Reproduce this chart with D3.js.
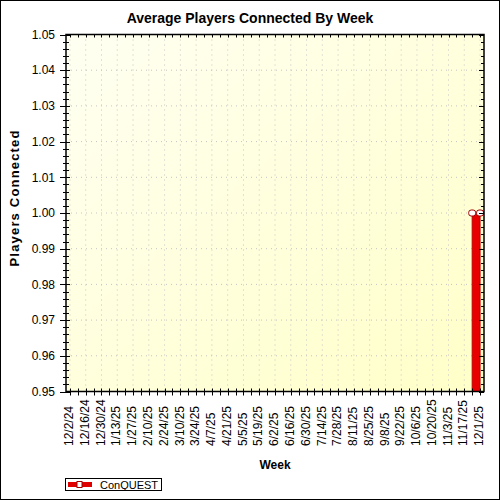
<!DOCTYPE html>
<html lang="en">

<head>
    <meta charset="utf-8" />
    <title>Average Players Connected By Week</title>
    <script src="https://cdn.jsdelivr.net/npm/d3@7"></script>

    <style>
        body {
            margin: 0;
            background: #fff;
        }

        svg text {
            font-family: "Liberation Sans", Arial, sans-serif;
            fill: #000;
        }

        .grid line {
            stroke: #c4c4c4;
            stroke-dasharray: 1, 4;
        }
    </style>
</head>

<body>

</body>

<script>

    // one entry per week
    let weeks = [
        '12/2/24', '12/9/24', '12/16/24', '12/23/24', '12/30/24', '1/6/25', '1/13/25', '1/20/25',
        '1/27/25', '2/3/25', '2/10/25', '2/17/25', '2/24/25', '3/3/25', '3/10/25', '3/17/25',
        '3/24/25', '3/31/25', '4/7/25', '4/14/25', '4/21/25', '4/28/25', '5/5/25', '5/12/25',
        '5/19/25', '5/26/25', '6/2/25', '6/9/25', '6/16/25', '6/23/25', '6/30/25', '7/7/25',
        '7/14/25', '7/21/25', '7/28/25', '8/4/25', '8/11/25', '8/18/25', '8/25/25', '9/1/25',
        '9/8/25', '9/15/25', '9/22/25', '9/29/25', '10/6/25', '10/13/25', '10/20/25', '10/27/25',
        '11/3/25', '11/10/25', '11/17/25', '11/24/25', '12/1/25'
    ];

    // average players per week (null = no data)
    let conquest = [
        null, null, null, null, null, null, null, null,
        null, null, null, null, null, null, null, null,
        null, null, null, null, null, null, null, null,
        null, null, null, null, null, null, null, null,
        null, null, null, null, null, null, null, null,
        null, null, null, null, null, null, null, null,
        null, null, null, 1.00, 1.00
    ];

    let seriesName = 'ConQUEST';
    let yTicks = [0.95, 0.96, 0.97, 0.98, 0.99, 1.00, 1.01, 1.02, 1.03, 1.04, 1.05];

    let width = 500, height = 500;
    let plot = { left: 66, right: 484, top: 34.5, bottom: 391.5 };

    let data = weeks.map((w, i) => ({ week: w, value: conquest[i] }));

    let svg = d3.select('body')
        .append('svg')
        .attr('width', width)
        .attr('height', height);

    // plot background gradient
    let grad = svg.append('defs').append('linearGradient')
        .attr('id', 'bg')
        .attr('x1', 0).attr('y1', 0)
        .attr('x2', 1).attr('y2', 1);
    grad.append('stop').attr('offset', '0%').attr('stop-color', '#fffff2');
    grad.append('stop').attr('offset', '100%').attr('stop-color', '#ffffc8');

    svg.append('defs').append('clipPath')
        .attr('id', 'clip')
        .append('rect')
        .attr('x', plot.left)
        .attr('y', plot.top)
        .attr('width', plot.right - plot.left)
        .attr('height', plot.bottom - plot.top);

    let x = d3.scalePoint()
        .domain(weeks)
        .range([plot.left, plot.right])
        .padding(0.5);

    let y = d3.scaleLinear()
        .domain([0.95, 1.05])
        .range([plot.bottom, plot.top]);

    let minorY = d3.range(0, 51).map(i => 0.95 + i * 0.002);
    let labelWeeks = weeks.filter((d, i) => i % 2 == 0);

    svg.append('rect')
        .attr('x', plot.left)
        .attr('y', plot.top)
        .attr('width', plot.right - plot.left)
        .attr('height', plot.bottom - plot.top)
        .style('fill', 'url(#bg)');

    // dotted grid
    let grid = svg.append('g').attr('class', 'grid');
    grid.selectAll('.gy')
        .data(yTicks.slice(1, -1))
        .enter().append('line')
        .attr('x1', plot.left)
        .attr('x2', plot.right)
        .attr('y1', d => y(d))
        .attr('y2', d => y(d));
    grid.selectAll('.gx')
        .data(labelWeeks)
        .enter().append('line')
        .attr('x1', d => x(d))
        .attr('x2', d => x(d))
        .attr('y1', plot.top)
        .attr('y2', plot.bottom);

    // area + line
    let area = d3.area()
        .defined(d => d.value != null)
        .x(d => x(d.week))
        .y0(plot.bottom)
        .y1(d => y(d.value));

    let line = d3.line()
        .defined(d => d.value != null)
        .x(d => x(d.week))
        .y(d => y(d.value));

    let g = svg.append('g').attr('clip-path', 'url(#clip)');

    g.append('path')
        .datum(data)
        .attr('d', area)
        .style('fill', '#e80000')
        .style('stroke', '#c00000')
        .style('stroke-width', 1);

    g.append('path')
        .datum(data)
        .attr('d', line)
        .style('fill', 'none')
        .style('stroke', '#a00000')
        .style('stroke-width', 1.5);

    svg.selectAll('.marker')
        .data(data.filter(d => d.value != null))
        .enter().append('rect')
        .attr('class', 'marker')
        .attr('x', d => x(d.week) - 3.5)
        .attr('y', d => y(d.value) - 3)
        .attr('width', 7)
        .attr('height', 6)
        .attr('rx', 2.5)
        .attr('ry', 2.5)
        .style('fill', '#fff')
        .style('stroke', '#a00000')
        .style('stroke-width', 1);

    // axes
    let axisColor = '#000';

    // left axis ticks crossing the line
    svg.append('g')
        .selectAll('line')
        .data(minorY)
        .enter().append('line')
        .attr('x1', (d, i) => i % 5 == 0 ? plot.left - 6 : plot.left - 3)
        .attr('x2', (d, i) => i % 5 == 0 ? plot.left + 4 : plot.left + 3)
        .attr('y1', d => Math.round(y(d)) + 0.5)
        .attr('y2', d => Math.round(y(d)) + 0.5)
        .style('stroke', axisColor);

    // right axis ticks inward
    svg.append('g')
        .selectAll('line')
        .data(minorY)
        .enter().append('line')
        .attr('x1', (d, i) => i % 5 == 0 ? plot.right - 5 : plot.right - 3)
        .attr('x2', plot.right)
        .attr('y1', d => Math.round(y(d)) + 0.5)
        .attr('y2', d => Math.round(y(d)) + 0.5)
        .style('stroke', axisColor);

    // bottom ticks crossing
    svg.append('g')
        .selectAll('line')
        .data(weeks)
        .enter().append('line')
        .attr('x1', d => Math.round(x(d)) + 0.5)
        .attr('x2', d => Math.round(x(d)) + 0.5)
        .attr('y1', plot.bottom - 3)
        .attr('y2', plot.bottom + 4)
        .style('stroke', axisColor);

    // top ticks inward
    svg.append('g')
        .selectAll('line')
        .data(weeks)
        .enter().append('line')
        .attr('x1', d => Math.round(x(d)) + 0.5)
        .attr('x2', d => Math.round(x(d)) + 0.5)
        .attr('y1', plot.top)
        .attr('y2', plot.top + 3)
        .style('stroke', axisColor);

    svg.append('rect')
        .attr('x', plot.left)
        .attr('y', plot.top)
        .attr('width', plot.right - plot.left)
        .attr('height', plot.bottom - plot.top)
        .style('fill', 'none')
        .style('stroke', axisColor)
        .style('stroke-width', 1.5);

    // y tick labels
    svg.append('g')
        .selectAll('text')
        .data(yTicks)
        .enter().append('text')
        .attr('x', 55)
        .attr('y', d => y(d))
        .attr('dy', '0.35em')
        .attr('text-anchor', 'end')
        .style('font-size', '12px')
        .text(d => d3.format('.2f')(d));

    // x tick labels
    svg.append('g')
        .selectAll('text')
        .data(labelWeeks)
        .enter().append('text')
        .attr('transform', d => `translate(${x(d) - 1},446) rotate(-90)`)
        .attr('dy', '0.35em')
        .attr('text-anchor', 'start')
        .style('font-size', '12px')
        .text(d => d);

    // titles
    svg.append('text')
        .attr('x', 250)
        .attr('y', 23)
        .attr('text-anchor', 'middle')
        .style('font-size', '14px')
        .style('font-weight', 'bold')
        .text('Average Players Connected By Week');

    svg.append('text')
        .attr('x', (plot.left + plot.right) / 2)
        .attr('y', 469)
        .attr('text-anchor', 'middle')
        .style('font-size', '12px')
        .style('font-weight', 'bold')
        .text('Week');

    svg.append('text')
        .attr('transform', 'translate(19,198.5) rotate(-90)')
        .attr('text-anchor', 'middle')
        .attr('textLength', 136)
        .attr('lengthAdjust', 'spacing')
        .style('font-size', '13px')
        .style('font-weight', 'bold')
        .text('Players Connected');

    // legend
    let legend = svg.append('g');
    legend.append('rect')
        .attr('x', 65.5)
        .attr('y', 478.5)
        .attr('width', 96)
        .attr('height', 12)
        .style('fill', '#fff')
        .style('stroke', '#000');
    legend.append('rect')
        .attr('x', 68)
        .attr('y', 482)
        .attr('width', 24)
        .attr('height', 5)
        .style('fill', '#e00000');
    legend.append('rect')
        .attr('x', 77)
        .attr('y', 481.5)
        .attr('width', 5)
        .attr('height', 6)
        .style('fill', '#fff')
        .style('stroke', '#a00000');
    legend.append('text')
        .attr('x', 100)
        .attr('y', 488.5)
        .style('font-size', '11px')
        .text(seriesName);

    // outer border
    svg.append('rect')
        .attr('x', 0.5)
        .attr('y', 0.5)
        .attr('width', width - 1)
        .attr('height', height - 1)
        .style('fill', 'none')
        .style('stroke', '#000');

</script>

</html>
